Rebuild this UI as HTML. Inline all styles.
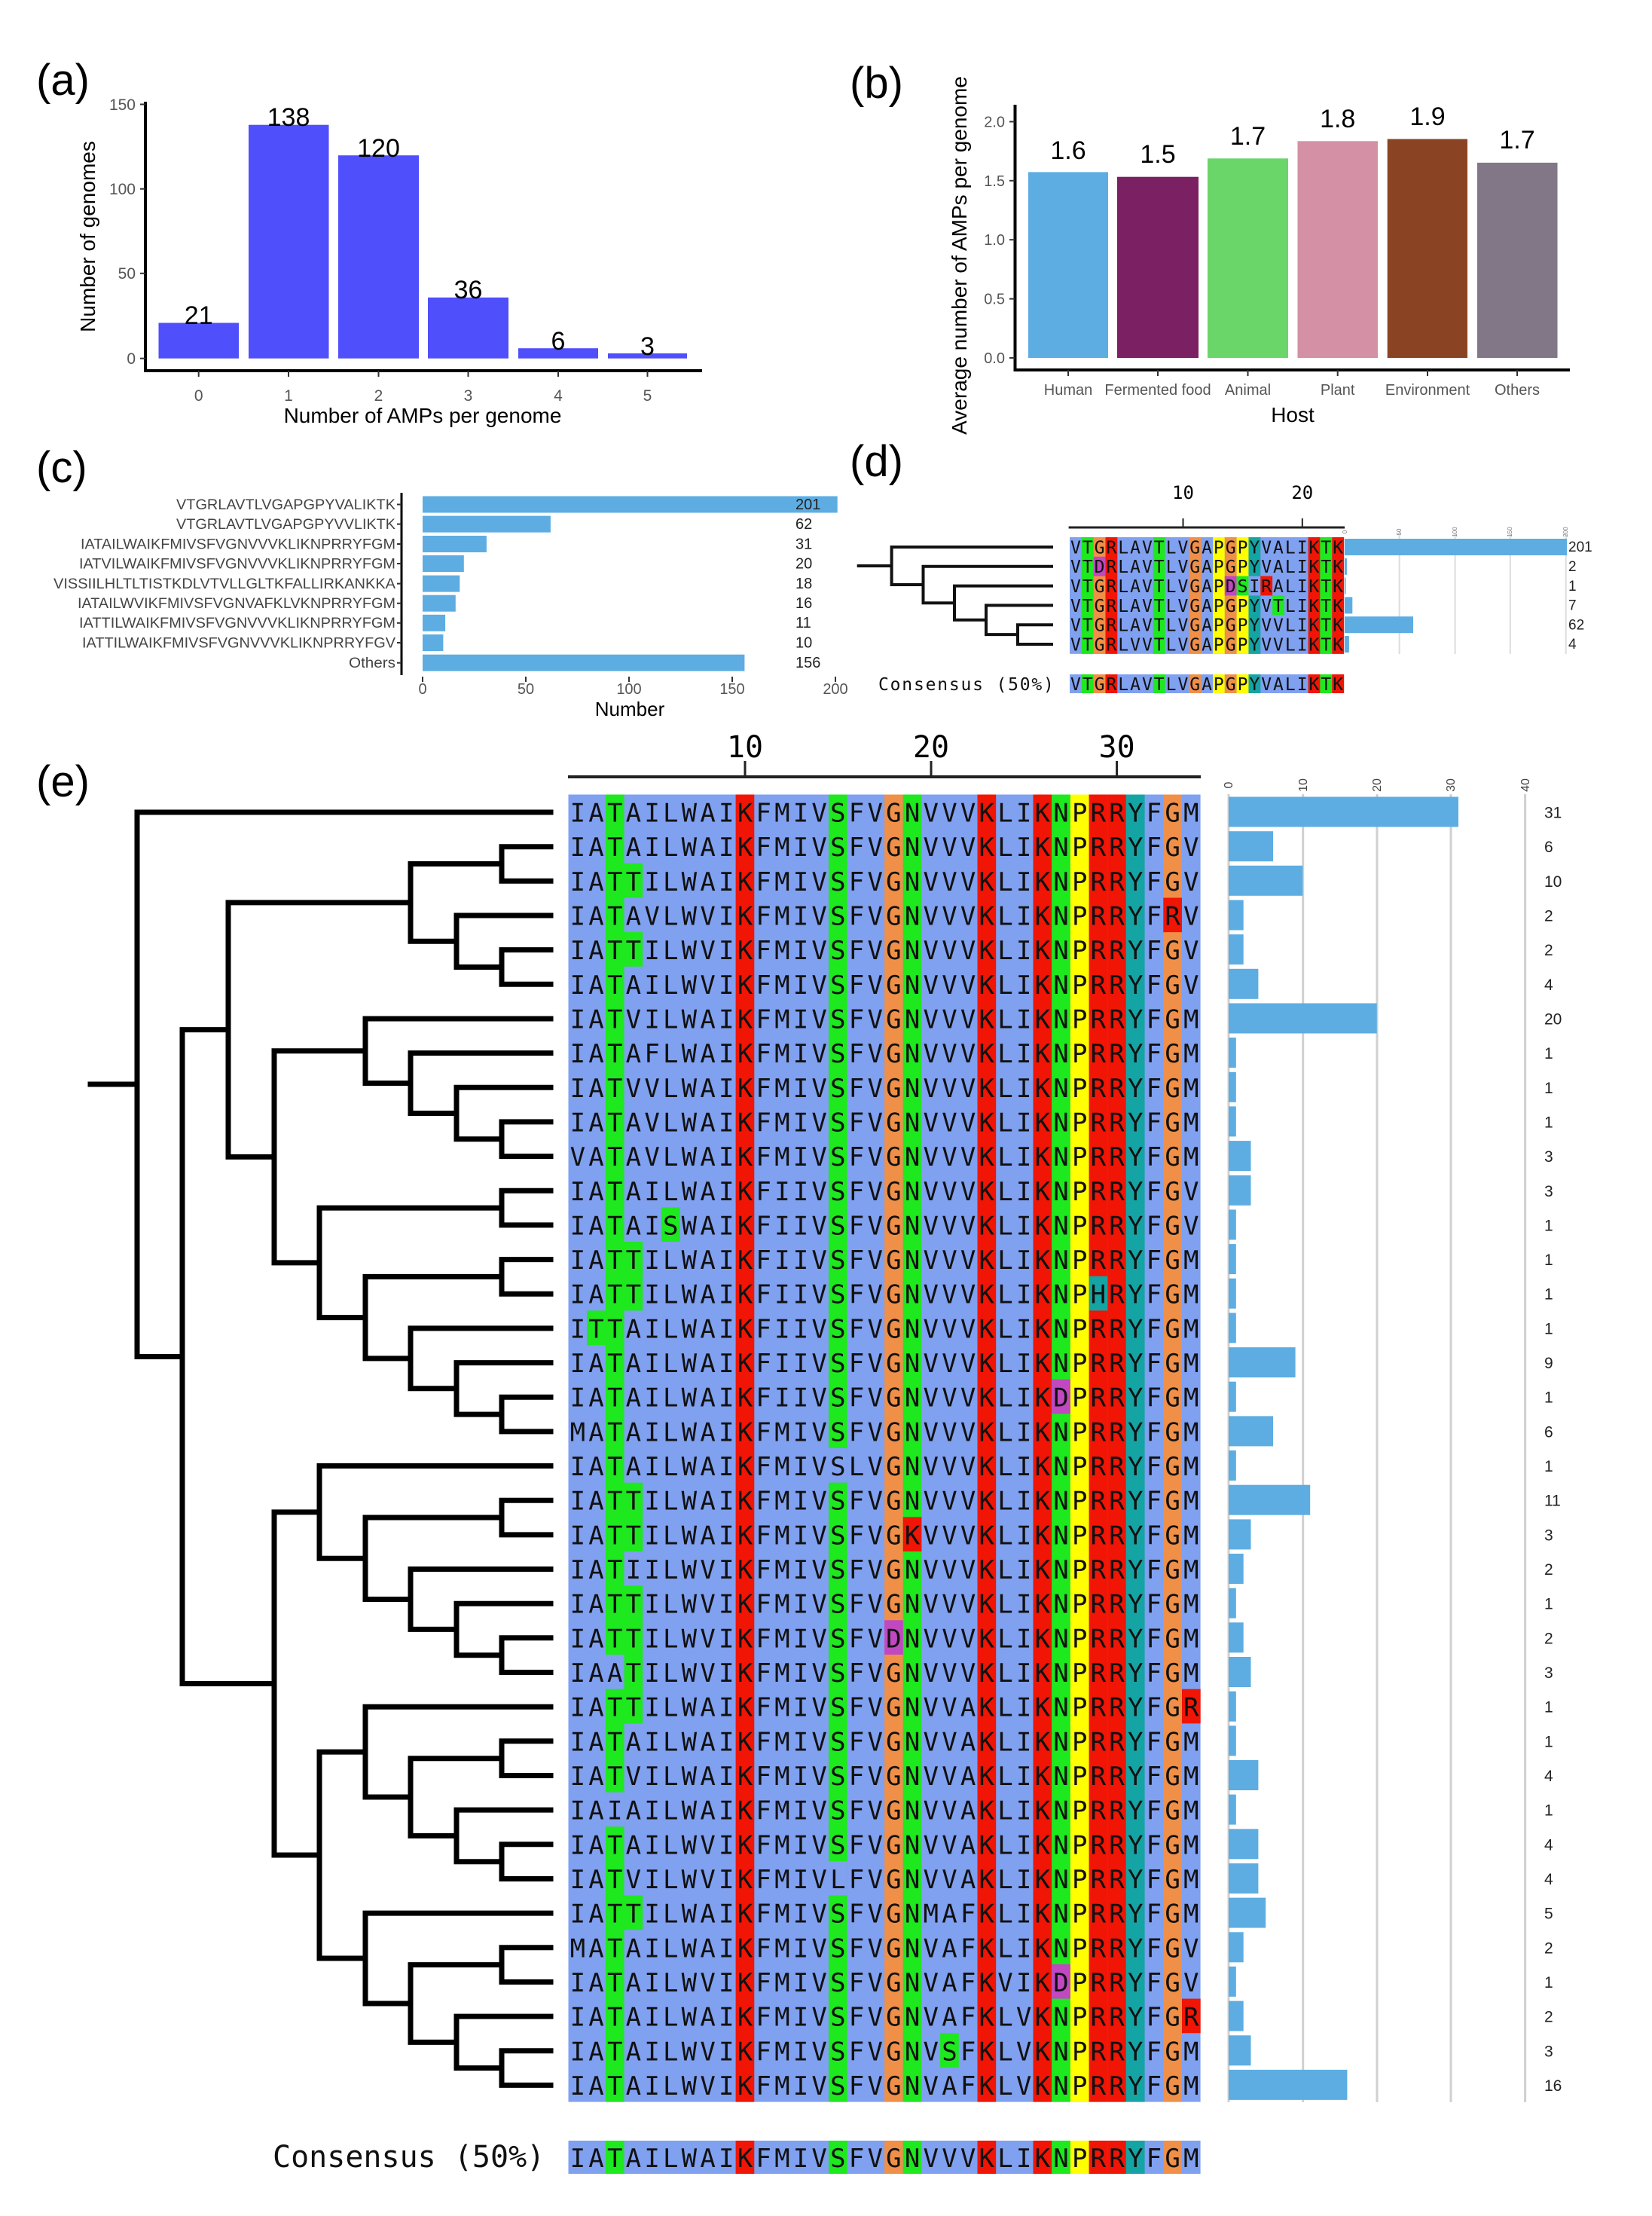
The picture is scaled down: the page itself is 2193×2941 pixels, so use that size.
<!DOCTYPE html>
<html><head><meta charset="utf-8"><style>
html,body{margin:0;padding:0;background:#fff}
svg{display:block}
.sans{font-family:"Liberation Sans",Arial,sans-serif}
.mono{font-family:"DejaVu Sans Mono","Liberation Mono",monospace}
</style></head><body>
<svg width="2193" height="2941" viewBox="0 0 2193 2941" xmlns="http://www.w3.org/2000/svg">
<rect width="2193" height="2941" fill="#fff"/>

<!-- ============ (a) ============ -->
<g class="sans">
<text x="48" y="126" font-size="58">(a)</text>
<line x1="193" y1="135" x2="193" y2="492" stroke="#000" stroke-width="4"/>
<line x1="191" y1="492" x2="932" y2="492" stroke="#000" stroke-width="4"/>
<g stroke="#333" stroke-width="2">
<line x1="186" y1="138.5" x2="193" y2="138.5"/><line x1="186" y1="250.7" x2="193" y2="250.7"/><line x1="186" y1="362.8" x2="193" y2="362.8"/><line x1="186" y1="475.7" x2="193" y2="475.7"/>
<line x1="263.7" y1="492" x2="263.7" y2="500"/><line x1="383" y1="492" x2="383" y2="500"/><line x1="502.5" y1="492" x2="502.5" y2="500"/><line x1="621.5" y1="492" x2="621.5" y2="500"/><line x1="741" y1="492" x2="741" y2="500"/><line x1="859.5" y1="492" x2="859.5" y2="500"/>
</g>
<g font-size="21" fill="#555" text-anchor="end">
<text x="180" y="146">150</text><text x="180" y="258">100</text><text x="180" y="370">50</text><text x="180" y="483">0</text>
</g>
<g font-size="21" fill="#555" text-anchor="middle">
<text x="263.7" y="532">0</text><text x="383" y="532">1</text><text x="502.5" y="532">2</text><text x="621.5" y="532">3</text><text x="741" y="532">4</text><text x="859.5" y="532">5</text>
</g>
<text x="561" y="561" font-size="28" text-anchor="middle">Number of AMPs per genome</text>
<text transform="translate(126,314) rotate(-90)" font-size="28" text-anchor="middle">Number of genomes</text>
<g fill="#4f4ffc">
<rect x="210.5" y="428.5" width="106.5" height="47.2"/>
<rect x="330" y="165.7" width="106.5" height="310"/>
<rect x="449" y="206.2" width="107" height="269.5"/>
<rect x="568" y="394.8" width="107" height="80.9"/>
<rect x="688" y="462.2" width="106" height="13.5"/>
<rect x="807" y="469" width="105" height="6.7"/>
</g>
<g font-size="34" text-anchor="middle">
<text x="263.7" y="430">21</text><text x="383" y="167">138</text><text x="502.5" y="208">120</text><text x="621.5" y="396">36</text><text x="741" y="464">6</text><text x="859.5" y="471">3</text>
</g>
</g>

<!-- ============ (b) ============ -->
<g class="sans">
<text x="1128" y="130" font-size="58">(b)</text>
<line x1="1347.5" y1="139" x2="1347.5" y2="491" stroke="#000" stroke-width="4"/>
<line x1="1345.5" y1="491" x2="2084" y2="491" stroke="#000" stroke-width="4"/>
<g stroke="#333" stroke-width="2">
<line x1="1340" y1="161.5" x2="1347" y2="161.5"/><line x1="1340" y1="239.8" x2="1347" y2="239.8"/><line x1="1340" y1="318.2" x2="1347" y2="318.2"/><line x1="1340" y1="396.6" x2="1347" y2="396.6"/><line x1="1340" y1="475" x2="1347" y2="475"/>
<line x1="1418" y1="491" x2="1418" y2="499"/><line x1="1537" y1="491" x2="1537" y2="499"/><line x1="1656.5" y1="491" x2="1656.5" y2="499"/><line x1="1775.7" y1="491" x2="1775.7" y2="499"/><line x1="1895" y1="491" x2="1895" y2="499"/><line x1="2014" y1="491" x2="2014" y2="499"/>
</g>
<g font-size="20" fill="#555" text-anchor="end">
<text x="1334" y="168.5">2.0</text><text x="1334" y="247">1.5</text><text x="1334" y="325">1.0</text><text x="1334" y="403.5">0.5</text><text x="1334" y="482">0.0</text>
</g>
<g font-size="20" fill="#555" text-anchor="middle">
<text x="1418" y="524">Human</text><text x="1537" y="524">Fermented food</text><text x="1656.5" y="524">Animal</text><text x="1775.7" y="524">Plant</text><text x="1895" y="524">Environment</text><text x="2014" y="524">Others</text>
</g>
<text x="1716" y="560" font-size="28" text-anchor="middle">Host</text>
<text transform="translate(1283,339) rotate(-90)" font-size="28" text-anchor="middle">Average number of AMPs per genome</text>
<rect x="1365" y="228.4" width="106" height="246.6" fill="#5dade2"/>
<rect x="1483" y="234.7" width="108" height="240.3" fill="#7b2062"/>
<rect x="1603" y="210.3" width="107" height="264.7" fill="#6ad66a"/>
<rect x="1722.5" y="187.3" width="106.5" height="287.7" fill="#d490a4"/>
<rect x="1841.7" y="184.5" width="106.3" height="290.5" fill="#8b4423"/>
<rect x="1961" y="215.9" width="106.5" height="259.1" fill="#817786"/>
<g font-size="34" text-anchor="middle">
<text x="1418" y="211">1.6</text><text x="1537" y="216">1.5</text><text x="1656.5" y="192">1.7</text><text x="1775.7" y="169">1.8</text><text x="1895" y="166">1.9</text><text x="2014" y="197">1.7</text>
</g>
</g>

<!-- ============ (c) ============ -->
<g class="sans">
<text x="48" y="640" font-size="58">(c)</text>
<line x1="533" y1="654" x2="533" y2="896" stroke="#000" stroke-width="3"/>
<g fill="#5dade2">
<rect x="561" y="658.5" width="550.7" height="22"/>
<rect x="561" y="684.6" width="169.9" height="22"/>
<rect x="561" y="711" width="84.9" height="22"/>
<rect x="561" y="737" width="54.8" height="22"/>
<rect x="561" y="763.6" width="49.3" height="22"/>
<rect x="561" y="789.7" width="43.8" height="22"/>
<rect x="561" y="815.8" width="30.1" height="22"/>
<rect x="561" y="842" width="27.4" height="22"/>
<rect x="561" y="868.7" width="427.4" height="22"/>
</g>
<g stroke="#333" stroke-width="2">
<line x1="527" y1="669.5" x2="533" y2="669.5"/><line x1="527" y1="695.6" x2="533" y2="695.6"/><line x1="527" y1="722" x2="533" y2="722"/><line x1="527" y1="748" x2="533" y2="748"/><line x1="527" y1="774.6" x2="533" y2="774.6"/><line x1="527" y1="800.7" x2="533" y2="800.7"/><line x1="527" y1="826.8" x2="533" y2="826.8"/><line x1="527" y1="853" x2="533" y2="853"/><line x1="527" y1="879.7" x2="533" y2="879.7"/>
<line x1="561" y1="898" x2="561" y2="905"/><line x1="698" y1="898" x2="698" y2="905"/><line x1="835" y1="898" x2="835" y2="905"/><line x1="972" y1="898" x2="972" y2="905"/><line x1="1109" y1="898" x2="1109" y2="905"/>
</g>
<g font-size="19" fill="#444" text-anchor="end">
<text x="525" y="676" textLength="291" lengthAdjust="spacingAndGlyphs">VTGRLAVTLVGAPGPYVALIKTK</text>
<text x="525" y="702" textLength="291" lengthAdjust="spacingAndGlyphs">VTGRLAVTLVGAPGPYVVLIKTK</text>
<text x="525" y="728.5" textLength="418" lengthAdjust="spacingAndGlyphs">IATAILWAIKFMIVSFVGNVVVKLIKNPRRYFGM</text>
<text x="525" y="754.5" textLength="420" lengthAdjust="spacingAndGlyphs">IATVILWAIKFMIVSFVGNVVVKLIKNPRRYFGM</text>
<text x="525" y="781" textLength="454" lengthAdjust="spacingAndGlyphs">VISSIILHLTLTISTKDLVTVLLGLTKFALLIRKANKKA</text>
<text x="525" y="807" textLength="422" lengthAdjust="spacingAndGlyphs">IATAILWVIKFMIVSFVGNVAFKLVKNPRRYFGM</text>
<text x="525" y="833" textLength="420" lengthAdjust="spacingAndGlyphs">IATTILWAIKFMIVSFVGNVVVKLIKNPRRYFGM</text>
<text x="525" y="859.5" textLength="416" lengthAdjust="spacingAndGlyphs">IATTILWAIKFMIVSFVGNVVVKLIKNPRRYFGV</text>
<text x="525" y="886" textLength="62" lengthAdjust="spacingAndGlyphs">Others</text>
</g>
<g font-size="20" fill="#222">
<text x="1056" y="676">201</text><text x="1056" y="702">62</text><text x="1056" y="728.5">31</text><text x="1056" y="754.5">20</text><text x="1056" y="781">18</text><text x="1056" y="807">16</text><text x="1056" y="833">11</text><text x="1056" y="859.5">10</text><text x="1056" y="886">156</text>
</g>
<g font-size="20" fill="#555" text-anchor="middle">
<text x="561" y="921">0</text><text x="698" y="921">50</text><text x="835" y="921">100</text><text x="972" y="921">150</text><text x="1109" y="921">200</text>
</g>
<text x="836" y="950" font-size="26" text-anchor="middle">Number</text>
</g>

<!-- ============ (d) ============ -->
<text x="1128" y="632" font-size="58" class="sans">(d)</text>
<g class="mono" font-size="24" text-anchor="middle"><text x="1570.5" y="662">10</text><text x="1728.8" y="662">20</text></g>
<line x1="1418.6" y1="700" x2="1785" y2="700" stroke="#222" stroke-width="3"/>
<line x1="1570.5" y1="688" x2="1570.5" y2="700" stroke="#222" stroke-width="2"/>
<line x1="1728.8" y1="688" x2="1728.8" y2="700" stroke="#222" stroke-width="2"/>
<g stroke="#ddd" stroke-width="2">
<line x1="1857.7" y1="708" x2="1857.7" y2="868"/><line x1="1931.6" y1="708" x2="1931.6" y2="868"/><line x1="2004.8" y1="708" x2="2004.8" y2="868"/><line x1="2078.7" y1="708" x2="2078.7" y2="868"/>
</g>
<g class="sans" font-size="8" fill="#777" text-anchor="middle">
<text transform="translate(1788,706) rotate(-90)">0</text><text transform="translate(1860,706) rotate(-90)">50</text><text transform="translate(1934,706) rotate(-90)">100</text><text transform="translate(2007,706) rotate(-90)">150</text><text transform="translate(2081,706) rotate(-90)">200</text>
</g>
<rect x="1420" y="713" width="364.1" height="154.8" fill="#80a0f0"/>
<g>
<rect x="1435.8" y="713" width="15.83" height="154.8" fill="#1ee81e"/>
<rect x="1451.7" y="713" width="15.83" height="154.8" fill="#f09048"/>
<rect x="1467.5" y="713" width="15.83" height="154.8" fill="#f01505"/>
<rect x="1530.8" y="713" width="15.83" height="154.8" fill="#1ee81e"/>
<rect x="1578.3" y="713" width="15.83" height="154.8" fill="#f09048"/>
<rect x="1610.0" y="713" width="15.83" height="154.8" fill="#ffff00"/>
<rect x="1625.8" y="713" width="15.83" height="154.8" fill="#f09048"/>
<rect x="1641.6" y="713" width="15.83" height="154.8" fill="#ffff00"/>
<rect x="1657.5" y="713" width="15.83" height="154.8" fill="#15a4a4"/>
<rect x="1736.6" y="713" width="15.83" height="154.8" fill="#f01505"/>
<rect x="1752.4" y="713" width="15.83" height="154.8" fill="#1ee81e"/>
<rect x="1768.3" y="713" width="15.83" height="154.8" fill="#f01505"/>
<rect x="1451.7" y="738.8" width="15.83" height="25.8" fill="#c048c0"/>
<rect x="1625.8" y="764.6" width="15.83" height="25.8" fill="#c048c0"/>
<rect x="1641.6" y="764.6" width="15.83" height="25.8" fill="#1ee81e"/>
<rect x="1657.5" y="764.6" width="15.83" height="25.8" fill="#80a0f0"/>
<rect x="1673.3" y="764.6" width="15.83" height="25.8" fill="#f01505"/>
<rect x="1689.1" y="790.4" width="15.83" height="25.8" fill="#1ee81e"/>
</g>
<g class="mono" font-size="23" letter-spacing="1.98" fill="#111">
<text x="1421" y="734.4">VTGRLAVTLVGAPGPYVALIKTK</text>
<text x="1421" y="760.2">VTDRLAVTLVGAPGPYVALIKTK</text>
<text x="1421" y="786">VTGRLAVTLVGAPDSIRALIKTK</text>
<text x="1421" y="811.8">VTGRLAVTLVGAPGPYVTLIKTK</text>
<text x="1421" y="837.6">VTGRLAVTLVGAPGPYVVLIKTK</text>
<text x="1421" y="863.4">VTGRLVVTLVGAPGPYVVLIKTK</text>
</g>
<g fill="#5dade2">
<rect x="1785" y="715" width="295" height="22"/>
<rect x="1785" y="740.8" width="2.9" height="22"/>
<rect x="1785" y="766.6" width="1.5" height="22"/>
<rect x="1785" y="792.4" width="10.3" height="22"/>
<rect x="1785" y="818.2" width="91" height="22"/>
<rect x="1785" y="844" width="5.9" height="22"/>
</g>
<g class="sans" font-size="19" fill="#222">
<text x="2082" y="732">201</text><text x="2082" y="758">2</text><text x="2082" y="784">1</text><text x="2082" y="809.5">7</text><text x="2082" y="835.5">62</text><text x="2082" y="861">4</text>
</g>
<path d="M1139.7 751 H1183.6 M1183.6 726 V776 M1183.6 726 H1396 M1183.6 776 H1225.5 M1225.5 751.8 V800.2 M1225.5 751.8 H1396 M1225.5 800.2 H1267 M1267 777.6 V822.8 M1267 777.6 H1396 M1267 822.8 H1309 M1309 803.4 V842.1 M1309 803.4 H1396 M1309 842.1 H1351 M1351 829.2 V855 M1351 829.2 H1396 M1351 855 H1396" stroke="#111" stroke-width="4" fill="none" stroke-linecap="square"/>
<text x="1166" y="916" class="mono" font-size="23" letter-spacing="1.8" fill="#111">Consensus (50%)</text>
<rect x="1420" y="895" width="364.1" height="25" fill="#80a0f0"/>
<g>
<rect x="1435.8" y="895" width="15.83" height="25" fill="#1ee81e"/>
<rect x="1451.7" y="895" width="15.83" height="25" fill="#f09048"/>
<rect x="1467.5" y="895" width="15.83" height="25" fill="#f01505"/>
<rect x="1530.8" y="895" width="15.83" height="25" fill="#1ee81e"/>
<rect x="1578.3" y="895" width="15.83" height="25" fill="#f09048"/>
<rect x="1610.0" y="895" width="15.83" height="25" fill="#ffff00"/>
<rect x="1625.8" y="895" width="15.83" height="25" fill="#f09048"/>
<rect x="1641.6" y="895" width="15.83" height="25" fill="#ffff00"/>
<rect x="1657.5" y="895" width="15.83" height="25" fill="#15a4a4"/>
<rect x="1736.6" y="895" width="15.83" height="25" fill="#f01505"/>
<rect x="1752.4" y="895" width="15.83" height="25" fill="#1ee81e"/>
<rect x="1768.3" y="895" width="15.83" height="25" fill="#f01505"/>
</g>
<text x="1421" y="916" class="mono" font-size="23" letter-spacing="1.98" fill="#111">VTGRLAVTLVGAPGPYVALIKTK</text>

<!-- ============ (e) ============ -->
<text x="48" y="1057" font-size="58" class="sans">(e)</text>
<g class="mono" font-size="40" text-anchor="middle"><text x="989" y="1005">10</text><text x="1236" y="1005">20</text><text x="1482.6" y="1005">30</text></g>
<line x1="754" y1="1031" x2="1594" y2="1031" stroke="#222" stroke-width="4"/>
<g stroke="#222" stroke-width="3"><line x1="989" y1="1010" x2="989" y2="1031"/><line x1="1236" y1="1010" x2="1236" y2="1031"/><line x1="1482.6" y1="1010" x2="1482.6" y2="1031"/></g>

<!-- alignment backgrounds -->
<rect x="754.5" y="1054.5" width="839.1" height="1735.1" fill="#80a0f0"/>
<g>
<rect x="803.9" y="1054.5" width="24.68" height="1735.1" fill="#1ee81e"/>
<rect x="976.6" y="1054.5" width="24.68" height="1735.1" fill="#f01505"/>
<rect x="1100.0" y="1054.5" width="24.68" height="1735.1" fill="#1ee81e"/>
<rect x="1174.1" y="1054.5" width="24.68" height="1735.1" fill="#f09048"/>
<rect x="1198.7" y="1054.5" width="24.68" height="1735.1" fill="#1ee81e"/>
<rect x="1297.5" y="1054.5" width="24.68" height="1735.1" fill="#f01505"/>
<rect x="1371.5" y="1054.5" width="24.68" height="1735.1" fill="#f01505"/>
<rect x="1396.2" y="1054.5" width="24.68" height="1735.1" fill="#1ee81e"/>
<rect x="1420.9" y="1054.5" width="24.68" height="1735.1" fill="#ffff00"/>
<rect x="1445.6" y="1054.5" width="24.68" height="1735.1" fill="#f01505"/>
<rect x="1470.2" y="1054.5" width="24.68" height="1735.1" fill="#f01505"/>
<rect x="1494.9" y="1054.5" width="24.68" height="1735.1" fill="#15a4a4"/>
<rect x="1544.3" y="1054.5" width="24.68" height="1735.1" fill="#f09048"/>
</g>
<g>
<!-- col3 blue -->
<rect x="803.9" y="2196.0" width="24.68" height="45.66" fill="#80a0f0"/>
<rect x="803.9" y="2378.6" width="24.68" height="45.66" fill="#80a0f0"/>
<!-- col4 green -->
<rect x="828.5" y="1145.8" width="24.68" height="45.66" fill="#1ee81e"/>
<rect x="828.5" y="1237.1" width="24.68" height="45.66" fill="#1ee81e"/>
<rect x="828.5" y="1648.1" width="24.68" height="91.32" fill="#1ee81e"/>
<rect x="828.5" y="1967.7" width="24.68" height="91.32" fill="#1ee81e"/>
<rect x="828.5" y="2104.7" width="24.68" height="182.64" fill="#1ee81e"/>
<rect x="828.5" y="2515.6" width="24.68" height="45.66" fill="#1ee81e"/>
<!-- col2 green row16 -->
<rect x="779.2" y="1739.4" width="24.68" height="45.66" fill="#1ee81e"/>
<!-- col6 green row13 -->
<rect x="877.9" y="1602.4" width="24.68" height="45.66" fill="#1ee81e"/>
<!-- col15 blue rows 20,32 -->
<rect x="1100.0" y="1922.0" width="24.68" height="45.66" fill="#80a0f0"/>
<rect x="1100.0" y="2470.0" width="24.68" height="45.66" fill="#80a0f0"/>
<!-- col18 magenta row25 -->
<rect x="1174.1" y="2150.3" width="24.68" height="45.66" fill="#c048c0"/>
<!-- col19 red row22 -->
<rect x="1198.7" y="2013.4" width="24.68" height="45.66" fill="#f01505"/>
<!-- col21 green row37 -->
<rect x="1248.1" y="2698.3" width="24.68" height="45.66" fill="#1ee81e"/>
<!-- col27 magenta rows 18,35 -->
<rect x="1396.2" y="1830.7" width="24.68" height="45.66" fill="#c048c0"/>
<rect x="1396.2" y="2606.9" width="24.68" height="45.66" fill="#c048c0"/>
<!-- col29 teal row15 -->
<rect x="1445.6" y="1693.7" width="24.68" height="45.66" fill="#15a4a4"/>
<!-- col33 red row4 -->
<rect x="1544.3" y="1191.5" width="24.68" height="45.66" fill="#f01505"/>
<!-- col34 red rows 27,36 -->
<rect x="1569.0" y="2241.7" width="24.68" height="45.66" fill="#f01505"/>
<rect x="1569.0" y="2652.6" width="24.68" height="45.66" fill="#f01505"/>
</g>
<g class="mono" font-size="34" letter-spacing="4.21" fill="#111">
<text x="756.6" y="1090.5">IATAILWAIKFMIVSFVGNVVVKLIKNPRRYFGM</text>
<text x="756.6" y="1136.2">IATAILWAIKFMIVSFVGNVVVKLIKNPRRYFGV</text>
<text x="756.6" y="1181.8">IATTILWAIKFMIVSFVGNVVVKLIKNPRRYFGV</text>
<text x="756.6" y="1227.5">IATAVLWVIKFMIVSFVGNVVVKLIKNPRRYFRV</text>
<text x="756.6" y="1273.1">IATTILWVIKFMIVSFVGNVVVKLIKNPRRYFGV</text>
<text x="756.6" y="1318.8">IATAILWVIKFMIVSFVGNVVVKLIKNPRRYFGV</text>
<text x="756.6" y="1364.5">IATVILWAIKFMIVSFVGNVVVKLIKNPRRYFGM</text>
<text x="756.6" y="1410.1">IATAFLWAIKFMIVSFVGNVVVKLIKNPRRYFGM</text>
<text x="756.6" y="1455.8">IATVVLWAIKFMIVSFVGNVVVKLIKNPRRYFGM</text>
<text x="756.6" y="1501.4">IATAVLWAIKFMIVSFVGNVVVKLIKNPRRYFGM</text>
<text x="756.6" y="1547.1">VATAVLWAIKFMIVSFVGNVVVKLIKNPRRYFGM</text>
<text x="756.6" y="1592.8">IATAILWAIKFIIVSFVGNVVVKLIKNPRRYFGV</text>
<text x="756.6" y="1638.4">IATAISWAIKFIIVSFVGNVVVKLIKNPRRYFGV</text>
<text x="756.6" y="1684.1">IATTILWAIKFIIVSFVGNVVVKLIKNPRRYFGM</text>
<text x="756.6" y="1729.7">IATTILWAIKFIIVSFVGNVVVKLIKNPHRYFGM</text>
<text x="756.6" y="1775.4">ITTAILWAIKFIIVSFVGNVVVKLIKNPRRYFGM</text>
<text x="756.6" y="1821.1">IATAILWAIKFIIVSFVGNVVVKLIKNPRRYFGM</text>
<text x="756.6" y="1866.7">IATAILWAIKFIIVSFVGNVVVKLIKDPRRYFGM</text>
<text x="756.6" y="1912.4">MATAILWAIKFMIVSFVGNVVVKLIKNPRRYFGM</text>
<text x="756.6" y="1958.0">IATAILWAIKFMIVSLVGNVVVKLIKNPRRYFGM</text>
<text x="756.6" y="2003.7">IATTILWAIKFMIVSFVGNVVVKLIKNPRRYFGM</text>
<text x="756.6" y="2049.4">IATTILWAIKFMIVSFVGKVVVKLIKNPRRYFGM</text>
<text x="756.6" y="2095.0">IATIILWVIKFMIVSFVGNVVVKLIKNPRRYFGM</text>
<text x="756.6" y="2140.7">IATTILWVIKFMIVSFVGNVVVKLIKNPRRYFGM</text>
<text x="756.6" y="2186.3">IATTILWVIKFMIVSFVDNVVVKLIKNPRRYFGM</text>
<text x="756.6" y="2232.0">IAATILWVIKFMIVSFVGNVVVKLIKNPRRYFGM</text>
<text x="756.6" y="2277.7">IATTILWAIKFMIVSFVGNVVAKLIKNPRRYFGR</text>
<text x="756.6" y="2323.3">IATAILWAIKFMIVSFVGNVVAKLIKNPRRYFGM</text>
<text x="756.6" y="2369.0">IATVILWAIKFMIVSFVGNVVAKLIKNPRRYFGM</text>
<text x="756.6" y="2414.6">IAIAILWAIKFMIVSFVGNVVAKLIKNPRRYFGM</text>
<text x="756.6" y="2460.3">IATAILWVIKFMIVSFVGNVVAKLIKNPRRYFGM</text>
<text x="756.6" y="2506.0">IATVILWVIKFMIVLFVGNVVAKLIKNPRRYFGM</text>
<text x="756.6" y="2551.6">IATTILWAIKFMIVSFVGNMAFKLIKNPRRYFGM</text>
<text x="756.6" y="2597.3">MATAILWAIKFMIVSFVGNVAFKLIKNPRRYFGV</text>
<text x="756.6" y="2642.9">IATAILWVIKFMIVSFVGNVAFKVIKDPRRYFGV</text>
<text x="756.6" y="2688.6">IATAILWAIKFMIVSFVGNVAFKLVKNPRRYFGR</text>
<text x="756.6" y="2734.3">IATAILWVIKFMIVSFVGNVSFKLVKNPRRYFGM</text>
<text x="756.6" y="2779.9">IATAILWVIKFMIVSFVGNVAFKLVKNPRRYFGM</text>
</g>

<!-- consensus (e) -->
<text x="362" y="2876" class="mono" font-size="40" fill="#111">Consensus (50%)</text>
<rect x="754.5" y="2841" width="839.1" height="44" fill="#80a0f0"/>
<g>
<rect x="803.9" y="2841" width="24.68" height="44" fill="#1ee81e"/>
<rect x="976.6" y="2841" width="24.68" height="44" fill="#f01505"/>
<rect x="1100.0" y="2841" width="24.68" height="44" fill="#1ee81e"/>
<rect x="1174.1" y="2841" width="24.68" height="44" fill="#f09048"/>
<rect x="1198.7" y="2841" width="24.68" height="44" fill="#1ee81e"/>
<rect x="1297.5" y="2841" width="24.68" height="44" fill="#f01505"/>
<rect x="1371.5" y="2841" width="24.68" height="44" fill="#f01505"/>
<rect x="1396.2" y="2841" width="24.68" height="44" fill="#1ee81e"/>
<rect x="1420.9" y="2841" width="24.68" height="44" fill="#ffff00"/>
<rect x="1445.6" y="2841" width="24.68" height="44" fill="#f01505"/>
<rect x="1470.2" y="2841" width="24.68" height="44" fill="#f01505"/>
<rect x="1494.9" y="2841" width="24.68" height="44" fill="#15a4a4"/>
<rect x="1544.3" y="2841" width="24.68" height="44" fill="#f09048"/>
</g>
<text x="756.6" y="2876" class="mono" font-size="34" letter-spacing="4.21" fill="#111">IATAILWAIKFMIVSFVGNVVVKLIKNPRRYFGM</text>

<!-- bar chart (e) -->
<g stroke="#d0d0d0" stroke-width="3">
<line x1="1631" y1="1054" x2="1631" y2="2790"/><line x1="1729.7" y1="1054" x2="1729.7" y2="2790"/><line x1="1828" y1="1054" x2="1828" y2="2790"/><line x1="1926" y1="1054" x2="1926" y2="2790"/><line x1="2024.6" y1="1054" x2="2024.6" y2="2790"/>
</g>
<g class="sans" font-size="16" fill="#444" text-anchor="middle">
<text transform="translate(1636,1042) rotate(-90)">0</text><text transform="translate(1735,1042) rotate(-90)">10</text><text transform="translate(1833,1042) rotate(-90)">20</text><text transform="translate(1931,1042) rotate(-90)">30</text><text transform="translate(2030,1042) rotate(-90)">40</text>
</g>
<g fill="#5dade2">
<rect x="1631" y="1057.5" width="305" height="40"/>
<rect x="1631" y="1103.2" width="59" height="40"/>
<rect x="1631" y="1148.8" width="98.4" height="40"/>
<rect x="1631" y="1194.5" width="19.7" height="40"/>
<rect x="1631" y="1240.1" width="19.7" height="40"/>
<rect x="1631" y="1285.8" width="39.4" height="40"/>
<rect x="1631" y="1331.5" width="196.8" height="40"/>
<rect x="1631" y="1377.1" width="9.84" height="40"/>
<rect x="1631" y="1422.8" width="9.84" height="40"/>
<rect x="1631" y="1468.4" width="9.84" height="40"/>
<rect x="1631" y="1514.1" width="29.5" height="40"/>
<rect x="1631" y="1559.8" width="29.5" height="40"/>
<rect x="1631" y="1605.4" width="9.84" height="40"/>
<rect x="1631" y="1651.1" width="9.84" height="40"/>
<rect x="1631" y="1696.7" width="9.84" height="40"/>
<rect x="1631" y="1742.4" width="9.84" height="40"/>
<rect x="1631" y="1788.1" width="88.6" height="40"/>
<rect x="1631" y="1833.7" width="9.84" height="40"/>
<rect x="1631" y="1879.4" width="59" height="40"/>
<rect x="1631" y="1925.0" width="9.84" height="40"/>
<rect x="1631" y="1970.7" width="108.2" height="40"/>
<rect x="1631" y="2016.4" width="29.5" height="40"/>
<rect x="1631" y="2062.0" width="19.7" height="40"/>
<rect x="1631" y="2107.7" width="9.84" height="40"/>
<rect x="1631" y="2153.3" width="19.7" height="40"/>
<rect x="1631" y="2199.0" width="29.5" height="40"/>
<rect x="1631" y="2244.7" width="9.84" height="40"/>
<rect x="1631" y="2290.3" width="9.84" height="40"/>
<rect x="1631" y="2336.0" width="39.4" height="40"/>
<rect x="1631" y="2381.6" width="9.84" height="40"/>
<rect x="1631" y="2427.3" width="39.4" height="40"/>
<rect x="1631" y="2473.0" width="39.4" height="40"/>
<rect x="1631" y="2518.6" width="49.2" height="40"/>
<rect x="1631" y="2564.3" width="19.7" height="40"/>
<rect x="1631" y="2609.9" width="9.84" height="40"/>
<rect x="1631" y="2655.6" width="19.7" height="40"/>
<rect x="1631" y="2701.3" width="29.5" height="40"/>
<rect x="1631" y="2746.9" width="157.4" height="40"/>
</g>
<g class="sans" font-size="21" fill="#222">
<text x="2050" y="1085.5">31</text><text x="2050" y="1131.2">6</text><text x="2050" y="1176.8">10</text><text x="2050" y="1222.5">2</text><text x="2050" y="1268.1">2</text><text x="2050" y="1313.8">4</text><text x="2050" y="1359.5">20</text><text x="2050" y="1405.1">1</text><text x="2050" y="1450.8">1</text><text x="2050" y="1496.4">1</text><text x="2050" y="1542.1">3</text><text x="2050" y="1587.8">3</text><text x="2050" y="1633.4">1</text><text x="2050" y="1679.1">1</text><text x="2050" y="1724.7">1</text><text x="2050" y="1770.4">1</text><text x="2050" y="1816.1">9</text><text x="2050" y="1861.7">1</text><text x="2050" y="1907.4">6</text><text x="2050" y="1953.0">1</text><text x="2050" y="1998.7">11</text><text x="2050" y="2044.4">3</text><text x="2050" y="2090.0">2</text><text x="2050" y="2135.7">1</text><text x="2050" y="2181.3">2</text><text x="2050" y="2227.0">3</text><text x="2050" y="2272.7">1</text><text x="2050" y="2318.3">1</text><text x="2050" y="2364.0">4</text><text x="2050" y="2409.6">1</text><text x="2050" y="2455.3">4</text><text x="2050" y="2501.0">4</text><text x="2050" y="2546.6">5</text><text x="2050" y="2592.3">2</text><text x="2050" y="2637.9">1</text><text x="2050" y="2683.6">2</text><text x="2050" y="2729.3">3</text><text x="2050" y="2774.9">16</text>
</g>

<!-- tree (e) -->
<path fill="none" stroke="#000" stroke-width="7" stroke-linecap="square" d="
M120 1439 H182 M182 1078 V1800.5 M182 1078 H731 M182 1800.5 H242
M242 1366.6 V2234.5 M242 1366.6 H303 M242 2234.5 H364
M303 1197.9 V1535.4 M303 1197.9 H545 M303 1535.4 H364
M545 1146.5 V1249.2 M545 1146.5 H666 M545 1249.2 H606
M666 1123.7 V1169.3 M666 1123.7 H731 M666 1169.3 H731
M606 1215 V1283.5 M606 1215 H731 M606 1283.5 H666
M666 1260.6 V1306.3 M666 1260.6 H731 M666 1306.3 H731
M364 1394.8 V1675.9 M364 1394.8 H485 M364 1675.9 H424
M485 1352 V1437.6 M485 1352 H731 M485 1437.6 H545
M545 1397.6 V1477.5 M545 1397.6 H731 M545 1477.5 H606
M606 1443.3 V1511.8 M606 1443.3 H731 M606 1511.8 H666
M666 1488.9 V1534.6 M666 1488.9 H731 M666 1534.6 H731
M424 1603.1 V1748.6 M424 1603.1 H666 M424 1748.6 H485
M666 1580.3 V1625.9 M666 1580.3 H731 M666 1625.9 H731
M485 1694.4 V1802.9 M485 1694.4 H666 M485 1802.9 H545
M666 1671.6 V1717.2 M666 1671.6 H731 M666 1717.2 H731
M545 1762.9 V1842.8 M545 1762.9 H731 M545 1842.8 H606
M606 1808.6 V1877.1 M606 1808.6 H731 M606 1877.1 H666
M666 1854.2 V1899.9 M666 1854.2 H731 M666 1899.9 H731
M364 2006.9 V2462 M364 2006.9 H424 M364 2462 H424
M424 1945.5 V2068.3 M424 1945.5 H731 M424 2068.3 H485
M485 2014 V2122.5 M485 2014 H666 M485 2122.5 H545
M666 1991.2 V2036.9 M666 1991.2 H731 M666 2036.9 H731
M545 2082.5 V2162.4 M545 2082.5 H731 M545 2162.4 H606
M606 2128.2 V2196.7 M606 2128.2 H731 M606 2196.7 H666
M666 2173.8 V2219.5 M666 2173.8 H731 M666 2219.5 H731
M424 2325.1 V2599 M424 2325.1 H485 M424 2599 H485
M485 2265.2 V2385 M485 2265.2 H731 M485 2385 H545
M545 2333.7 V2436.4 M545 2333.7 H666 M545 2436.4 H606
M666 2310.8 V2356.5 M666 2310.8 H731 M666 2356.5 H731
M606 2402.1 V2470.7 M606 2402.1 H731 M606 2470.7 H666
M666 2447.8 V2493.5 M666 2447.8 H731 M666 2493.5 H731
M485 2539.1 V2659 M485 2539.1 H731 M485 2659 H545
M545 2607.6 V2710.4 M545 2607.6 H666 M545 2710.4 H606
M666 2584.8 V2630.4 M666 2584.8 H731 M666 2630.4 H731
M606 2676.1 V2744.6 M606 2676.1 H731 M606 2744.6 H666
M666 2721.8 V2767.4 M666 2721.8 H731 M666 2767.4 H731
"/>
</svg>
</body></html>
